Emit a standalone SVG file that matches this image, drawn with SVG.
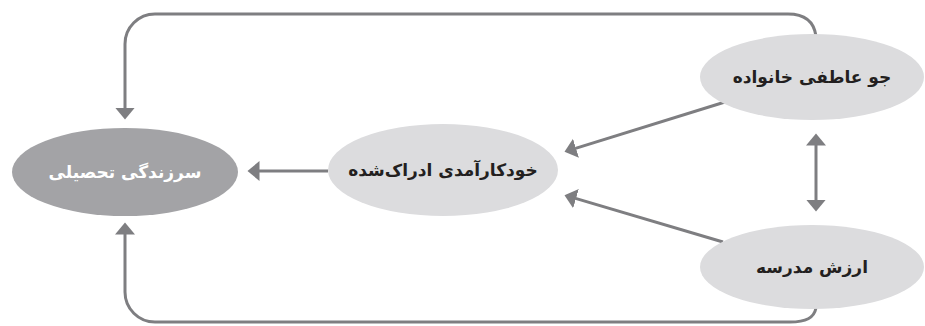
<svg xmlns="http://www.w3.org/2000/svg" width="925" height="326" viewBox="0 0 925 326">
  <style>
    .light { fill: #dcdcde; }
    .dark { fill: #a3a3a6; }
    .lbl { font-family: "DejaVu Sans", "Noto Sans", sans-serif; font-weight: bold; font-size: 17px; text-anchor: middle; dominant-baseline: central; }
    .lbl-dark { fill: #231f20; }
    .lbl-white { fill: #ffffff; }
    .conn { fill: none; stroke: #7e7e81; stroke-width: 3; }
  </style>
  <defs>
    <marker id="arrow" markerUnits="userSpaceOnUse" viewBox="0 -11 13 22" refX="0.5" refY="0" markerWidth="13" markerHeight="22" orient="auto-start-reverse">
      <path d="M0,-10 L12,0 L0,10 Z" fill="#7e7e81"/>
    </marker>
  </defs>

  <g id="connectors">
    <path class="conn" d="M816,36 C814,22 806,14 788,14 L155,14 A30,30 0 0 0 125,44 L125,108" marker-end="url(#arrow)"/>
    <path class="conn" d="M816,308 C814,318 806,322 790,322 L155,322 A30,30 0 0 1 125,292 L125,234" marker-end="url(#arrow)"/>
    <path class="conn" d="M328,171 L259,171" marker-end="url(#arrow)"/>
    <path class="conn" d="M725,102 L575.5,148.4" marker-end="url(#arrow)"/>
    <path class="conn" d="M723,242 L575.5,198.4" marker-end="url(#arrow)"/>
    <path class="conn" d="M816,145 L816,200" marker-start="url(#arrow)" marker-end="url(#arrow)"/>
  </g>

  <g id="node-academic-vitality">
    <ellipse class="dark" cx="125" cy="172" rx="113" ry="44"/>
    <text class="lbl lbl-white" x="125" y="172">سرزندگی تحصیلی</text>
  </g>

  <g id="node-self-efficacy">
    <ellipse class="light" cx="443" cy="170" rx="115" ry="46"/>
    <text class="lbl lbl-dark" x="443" y="170">خودکارآمدی ادراک‌شده</text>
  </g>

  <g id="node-family-climate">
    <ellipse class="light" cx="812" cy="77" rx="112" ry="43"/>
    <text class="lbl lbl-dark" x="812" y="77">جو عاطفی خانواده</text>
  </g>

  <g id="node-school-value">
    <ellipse class="light" cx="812" cy="267" rx="112" ry="42"/>
    <text class="lbl lbl-dark" x="812" y="267">ارزش مدرسه</text>
  </g>
</svg>
